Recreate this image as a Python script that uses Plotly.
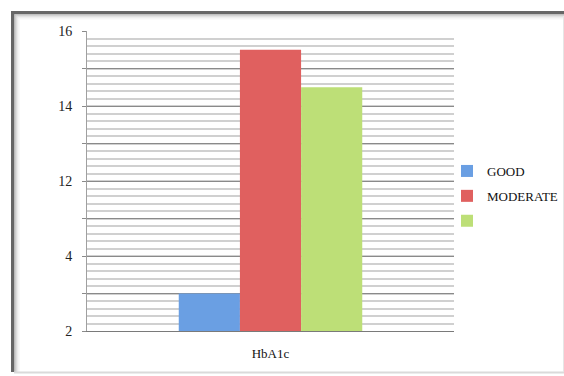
import plotly.graph_objects as go

# ---- data ----
categories = ["HbA1c"]
series_names = ["GOOD", "MODERATE", ""]
good_values = [1.0]
moderate_values = [7.5]
third_values = [6.5]
ytick_positions = [0, 1, 2, 3, 4, 5, 6, 7, 8]
ytick_labels = ["2", "", "4", "", "12", "", "14", "", "16"]

colors = ["#6a9fe3", "#e0605f", "#bddf77"]

W, H = 564, 376
L, R, T, B = 87, 110, 31, 45
PW, PH = W - L - R, H - T - B


def px(x):
    return (x - L) / PW


def py(y):
    return (H - B - y) / PH


fig = go.Figure()
for name, vals, c in zip(series_names, [good_values, moderate_values, third_values], colors):
    fig.add_trace(go.Bar(
        x=categories, y=vals, name=name if name else " ",
        marker=dict(color=c, line=dict(width=0)),
        legendgroup=name if name else "third",
    ))

# frame with inner shadow
shapes = []
shades = ["#9a9a9a", "#b4b4b4", "#cacaca", "#dddddd", "#ececec", "#f6f6f6"]
for i, s in enumerate(shades):
    shapes.append(dict(type="rect", xref="paper", yref="paper",
                       x0=px(14 + i), x1=px(620), y0=py(14 + i), y1=py(420),
                       line=dict(color=s, width=1.2), layer="below"))
shapes.append(dict(type="rect", xref="paper", yref="paper",
                   x0=px(12.5), x1=px(620), y0=py(12.5), y1=py(420),
                   line=dict(color="#666666", width=3), layer="below"))
shapes.append(dict(type="rect", xref="paper", yref="paper",
                   x0=px(0), x1=px(620), y0=py(372), y1=py(420),
                   fillcolor="white", line=dict(width=0), layer="below"))
shapes.append(dict(type="line", xref="paper", yref="paper",
                   x0=px(14), x1=px(620), y0=py(372.5), y1=py(372.5),
                   line=dict(color="#dadada", width=2), layer="below"))
shapes.append(dict(type="line", xref="paper", yref="paper",
                   x0=px(563.5), x1=px(563.5), y0=py(16), y1=py(372),
                   line=dict(color="#e6e6e6", width=1), layer="below"))

fig.update_layout(
    width=W, height=H,
    margin=dict(l=L, r=R, t=T, b=B, pad=0, autoexpand=False),
    paper_bgcolor="white", plot_bgcolor="white",
    barmode="group", bargap=0.5, bargroupgap=0,
    font=dict(family="Liberation Serif", size=12, color="#222222"),
    showlegend=True,
    legend=dict(x=px(447), y=py(196), xanchor="left", yanchor="middle",
                tracegroupgap=5, font=dict(size=13, color="#111111"),
                bgcolor="rgba(0,0,0,0)", itemwidth=30),
    shapes=shapes,
)
fig.update_yaxes(
    range=[0, 8], tickmode="array", tickvals=ytick_positions, ticktext=ytick_labels,
    showgrid=True, gridcolor="#8a8a8a", gridwidth=1,
    ticks="outside", ticklen=4, tickcolor="#8a8a8a",
    showline=True, linecolor="#a0a0a0", linewidth=1,
    minor=dict(dtick=0.2, showgrid=True, gridcolor="#d0d0d0", gridwidth=1.5),
    zeroline=False, tickfont=dict(size=14, color="#222222"),
    ticklabelstandoff=7,
)
fig.update_xaxes(
    showgrid=False, showline=True, linecolor="#7a7a7a", linewidth=1,
    ticks="", tickfont=dict(size=13, color="#111111"),
    ticklabelstandoff=10,
)

fig.write_html("out.html")
